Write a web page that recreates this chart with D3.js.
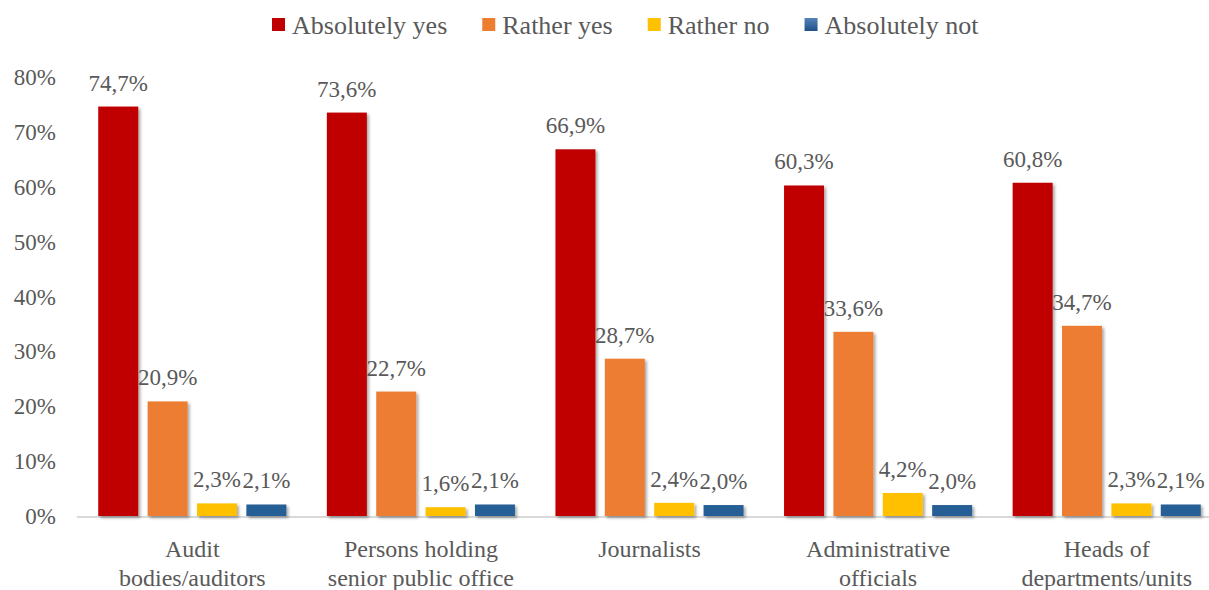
<!DOCTYPE html>
<html>
<head>
<meta charset="utf-8">
<script src="https://cdn.jsdelivr.net/npm/d3@7"></script>
<style>
  html, body { margin: 0; padding: 0; background: #fff; }
  svg { display: block; }
</style>
</head>
<body>
<svg id="chart" width="1209" height="590"></svg>
<script>
// Survey answers by group of respondents (percent)
const categories = [
  "Audit\nbodies/auditors",
  "Persons holding\nsenior public office",
  "Journalists",
  "Administrative\nofficials",
  "Heads of\ndepartments/units"
];
const seriesNames = ["Absolutely yes", "Rather yes", "Rather no", "Absolutely not"];
const absolutelyYes = [74.7, 73.6, 66.9, 60.3, 60.8];
const ratherYes     = [20.9, 22.7, 28.7, 33.6, 34.7];
const ratherNo      = [2.3, 1.6, 2.4, 4.2, 2.3];
const absolutelyNot = [2.1, 2.1, 2.0, 2.0, 2.1];
const yTicks = [0, 10, 20, 30, 40, 50, 60, 70, 80];

const seriesValues = [absolutelyYes, ratherYes, ratherNo, absolutelyNot];
const colors = ["#C00000", "#ED7D31", "#FFC000", "#285E96"];

const FONT = "'Liberation Serif', 'Times New Roman', serif";
const TEXT_COLOR = "#595959";

const svg = d3.select("#chart");
const defs = svg.append("defs");

const shadow = defs.append("filter").attr("id", "shadow")
  .attr("x", "-20%").attr("y", "-20%").attr("width", "150%").attr("height", "150%");
shadow.append("feDropShadow")
  .attr("dx", 2).attr("dy", 2).attr("stdDeviation", 1.6)
  .attr("flood-color", "#000").attr("flood-opacity", 0.35);

const blueGrad = defs.append("linearGradient").attr("id", "blueGrad")
  .attr("x1", 0).attr("y1", 0).attr("x2", 0).attr("y2", 1);
blueGrad.append("stop").attr("offset", "0%").attr("stop-color", "#5683B8");
blueGrad.append("stop").attr("offset", "100%").attr("stop-color", "#1F5088");

// Scales
const y = d3.scaleLinear().domain([0, 80]).range([516, 77.5]);
const x0 = d3.scaleBand().domain(categories).range([78, 1221]).padding(0);
const x1 = d3.scaleBand().domain(seriesNames).range([0, x0.bandwidth()])
  .paddingInner(0.19).paddingOuter(0.41);

// Y axis labels (no line, no ticks)
const yAxis = d3.axisLeft(y).tickValues(yTicks).tickFormat(d => d + "%").tickSize(0).tickPadding(0);
const yG = svg.append("g").attr("transform", "translate(56,0)").call(yAxis);
yG.select(".domain").remove();
yG.attr("font-family", null).attr("font-size", null);
yG.selectAll("text")
  .style("font-size", "23px")
  .style("font-family", FONT)
  .style("fill", TEXT_COLOR)
  .attr("fill", TEXT_COLOR);

// Baseline
svg.append("line")
  .attr("x1", 77).attr("x2", 1209)
  .attr("y1", y(0) + 1).attr("y2", y(0) + 1)
  .attr("stroke", "#D9D9D9").attr("stroke-width", 2);

// Bars
const rows = categories.map((c, i) => ({
  cat: c,
  vals: seriesNames.map((s, j) => ({ series: s, value: seriesValues[j][i], color: colors[j] }))
}));

const groups = svg.append("g").selectAll("g").data(rows).join("g")
  .attr("transform", d => `translate(${x0(d.cat)},0)`);

groups.selectAll("rect").data(d => d.vals).join("rect")
  .attr("x", d => x1(d.series))
  .attr("width", x1.bandwidth())
  .attr("y", d => y(d.value))
  .attr("height", d => y(0) - y(d.value))
  .attr("fill", d => d.color)
  .attr("filter", "url(#shadow)");

groups.selectAll("text.val").data(d => d.vals).join("text")
  .attr("class", "val")
  .attr("x", d => x1(d.series) + x1.bandwidth() / 2)
  .attr("y", d => y(d.value) - 16)
  .attr("text-anchor", "middle")
  .style("font-family", FONT)
  .style("font-size", "23px")
  .style("fill", TEXT_COLOR)
  .text(d => d3.format(".1f")(d.value).replace(".", ",") + "%");

// Category labels
const xAxisG = svg.append("g");
categories.forEach(c => {
  const cx = x0(c) + x0.bandwidth() / 2;
  const t = xAxisG.append("text")
    .attr("x", cx)
    .attr("y", 557)
    .attr("text-anchor", "middle")
    .style("font-family", FONT)
    .style("font-size", "24px")
    .style("fill", TEXT_COLOR);
  c.split("\n").forEach((line, k) => {
    t.append("tspan")
      .attr("x", cx)
      .attr("dy", k === 0 ? 0 : 29)
      .text(line);
  });
});

// Legend
const legend = svg.append("g");
let lx = 272;
seriesNames.forEach((s, j) => {
  legend.append("rect")
    .attr("x", lx).attr("y", 18).attr("width", 13).attr("height", 13)
    .attr("fill", j === 3 ? "url(#blueGrad)" : colors[j]);
  const t = legend.append("text")
    .attr("x", lx + 20).attr("y", 34)
    .style("font-family", FONT)
    .style("font-size", "26px")
    .style("fill", TEXT_COLOR)
    .text(s);
  lx += 20 + t.node().getComputedTextLength() + 35;
});
</script>
</body>
</html>
